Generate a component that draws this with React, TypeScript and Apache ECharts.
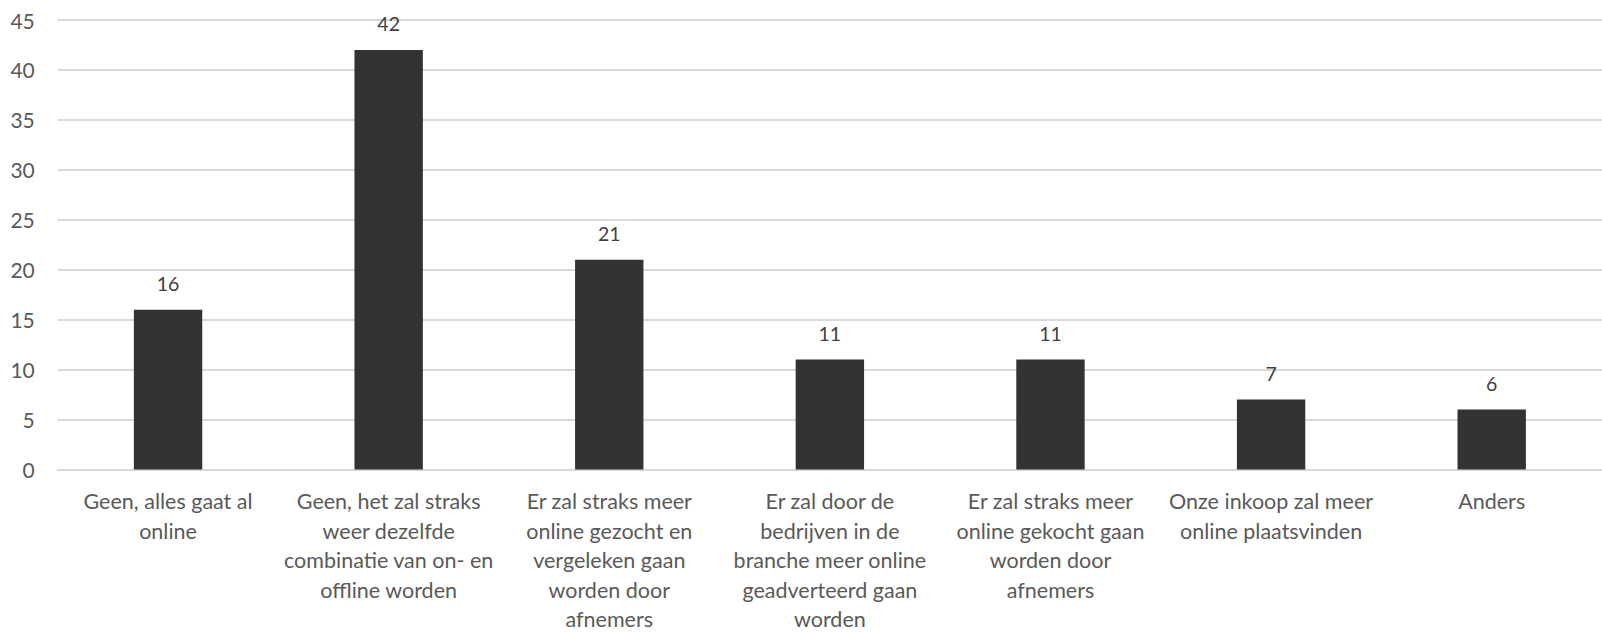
import React, { useEffect, useRef } from "react";
import * as echarts from "echarts";

const categories: string[] = [
  "Geen, alles gaat al\nonline",
  "Geen, het zal straks\nweer dezelfde\ncombinatie van on- en\noffline worden",
  "Er zal straks meer\nonline gezocht en\nvergeleken gaan\nworden door\nafnemers",
  "Er zal door de\nbedrijven in de\nbranche meer online\ngeadverteerd gaan\nworden",
  "Er zal straks meer\nonline gekocht gaan\nworden door\nafnemers",
  "Onze inkoop zal meer\nonline plaatsvinden",
  "Anders",
];
const values: number[] = [16, 42, 21, 11, 11, 7, 6];
const yMin = 0;
const yMax = 45;
const yInterval = 5;

export default function App() {
  const ref = useRef<HTMLDivElement>(null);
  useEffect(() => {
    document.body.style.margin = "0";
    if (!ref.current) return;
    const chart = echarts.init(ref.current, undefined, { renderer: "svg" });
    const font = "Lato, 'Noto Sans', sans-serif";
    chart.setOption({
      animation: false,
      backgroundColor: "#ffffff",
      grid: { left: 57.75, right: -13, top: 20, bottom: 156.3, containLabel: false },
      xAxis: {
        type: "category",
        data: categories,
        axisLine: { show: true, lineStyle: { color: "#d9d9d9", width: 1.8 } },
        axisTick: { show: false },
        axisLabel: {
          interval: 0,
          margin: 17,
          color: "#595959",
          fontSize: 21.5,
          lineHeight: 29.5,
          fontFamily: font,
          align: "center",
        },
      },
      yAxis: {
        type: "value",
        min: yMin,
        max: yMax,
        interval: yInterval,
        axisLine: { show: false },
        axisTick: { show: false },
        splitLine: { lineStyle: { color: "#d9d9d9", width: 1.8 } },
        axisLabel: {
          margin: 23,
          color: "#595959",
          fontSize: 21,
          fontFamily: font,
        },
      },
      series: [
        {
          type: "bar",
          data: values,
          barWidth: "31%",
          itemStyle: { color: "#333333" },
          label: {
            show: true,
            position: "top",
            distance: 16,
            color: "#404040",
            fontSize: 19.5,
            fontFamily: font,
          },
        },
      ],
    });
    return () => chart.dispose();
  }, []);
  return <div ref={ref} style={{ width: 1602, height: 634 }} />;
}
